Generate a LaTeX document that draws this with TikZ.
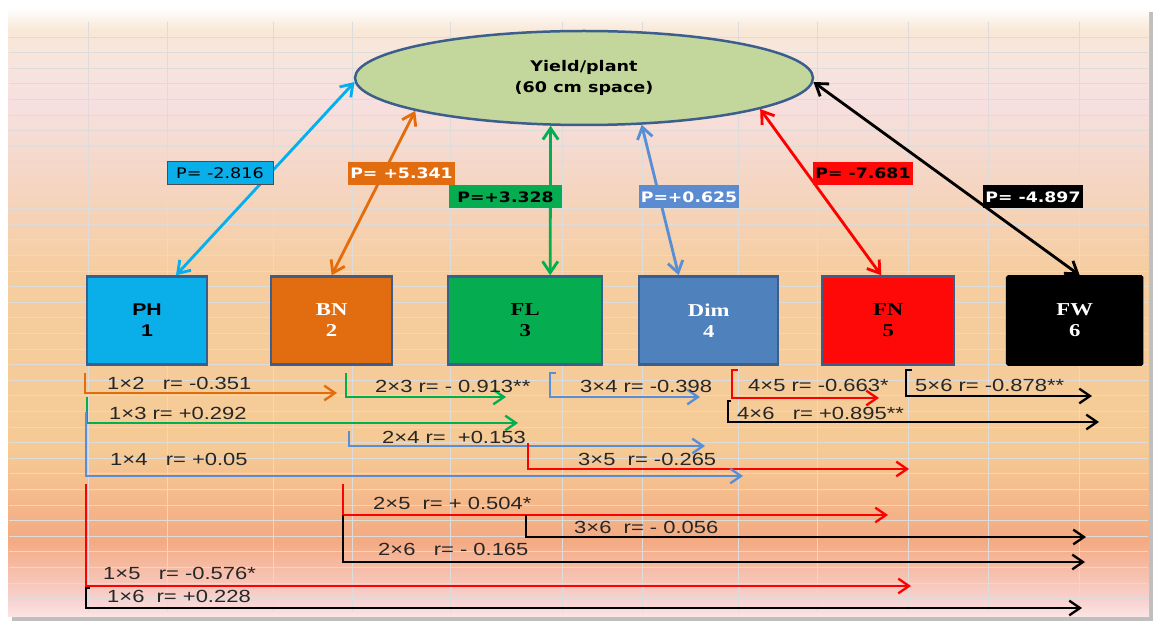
\documentclass[tikz,border=0pt]{standalone}
\usepackage{fontspec}
\setmainfont{Liberation Sans}
\newfontfamily\labelfont[FakeStretch=1.25]{Liberation Sans}
\newfontfamily\pathfont[FakeStretch=1.2]{DejaVu Sans}
\newfontfamily\varfont[FakeStretch=1.25]{Liberation Serif}
\usepackage{tikz}
\usetikzlibrary{shapes.geometric, arrows.meta, positioning, calc}
\definecolor{phcyan}{RGB}{10,174,232}
\definecolor{bnorange}{RGB}{226,108,16}
\definecolor{flgreen}{RGB}{6,173,80}
\definecolor{dimblue}{RGB}{79,129,189}
\definecolor{fnred}{RGB}{255,8,8}
\definecolor{edgeblue}{RGB}{60,94,140}
\definecolor{ellfill}{RGB}{195,214,155}
\definecolor{lncyan}{RGB}{0,176,240}
\definecolor{lnorange}{RGB}{228,108,10}
\definecolor{lngreen}{RGB}{0,176,80}
\definecolor{lnblue}{RGB}{88,142,214}
\definecolor{lnred}{RGB}{255,0,0}
\definecolor{pblue}{RGB}{91,139,208}
\definecolor{gridgray}{RGB}{222,220,218}
\definecolor{bgtop}{RGB}{248,232,216}
\definecolor{bgrose}{RGB}{246,224,224}
\definecolor{bgtan}{RGB}{245,214,196}
\definecolor{bgpeachlt}{RGB}{245,205,160}
\definecolor{bgpeach}{RGB}{245,202,148}
\definecolor{bgsalmon}{RGB}{244,170,130}
\definecolor{bgpink}{RGB}{248,210,208}
\definecolor{bgbot}{RGB}{251,228,228}
\pgfdeclareverticalshading{sheetshade}{100bp}{color(0bp)=(bgbot); color(25bp)=(bgbot);
  color(26.3bp)=(bgpink); color(31.2bp)=(bgsalmon); color(38.6bp)=(bgpeach);
  color(53.4bp)=(bgpeachlt); color(60.9bp)=(bgtan); color(67.4bp)=(bgrose);
  color(73.2bp)=(bgtop); color(75bp)=(white); color(100bp)=(white)}
\tikzset{
  varbox/.style={rectangle, draw=edgeblue, line width=0.75mm,
    minimum height=26.4mm, align=center,
    font=\varfont\bfseries\fontsize{15.5}{17.9}\selectfont},
  yieldell/.style={ellipse, draw=edgeblue, fill=ellfill, line width=0.75mm,
    minimum width=137.4mm, minimum height=28.2mm, align=center,
    font=\pathfont\bfseries\fontsize{12.5}{17.9}\selectfont},
  plabel/.style={rectangle, inner sep=0.6mm, minimum height=6.9mm,
    font=\pathfont\bfseries\fontsize{12.3}{15}\selectfont},
  parrow/.style={{Straight Barb[length=3.4mm, width=4.6mm]}-{Straight Barb[length=3.4mm, width=4.6mm]},
    line width=0.85mm},
  rline/.style={-{Straight Barb[length=3.2mm, width=4.4mm]}, line width=0.7mm},
  rtext/.style={anchor=west, inner sep=0pt, text=black!85,
    font=\labelfont\fontsize{15}{17}\selectfont},
  gridline/.style={draw=gridgray, line width=0.25mm}
}

\begin{document}
\begin{tikzpicture}[x=0.3mm, y=-0.3mm]
  \useasboundingbox (0,0) rectangle (1156,626);
  % sheet behind the diagram
  \fill[black!25] (12,12) rectangle (1153,621);
  \shade[shading=sheetshade] (8,8) rectangle (1149,616);
  \foreach \gx in {88,167,273,352,450,562,642,738,817,908,988,1079}
    \draw[gridline] (\gx,22) -- (\gx,612);
  \foreach \gy in {0,...,36}
    \draw[gridline] (9,{37+15.6*\gy}) -- (1148,{37+15.6*\gy});

  \node[yieldell] (yield) at (584,78) {Yield/plant\\(60 cm space)};

  \node[varbox, fill=phcyan, minimum width=36mm,
    font=\labelfont\bfseries\fontsize{14.5}{17.9}\selectfont] (ph) at (147,320.5) {PH\\1};
  \node[varbox, fill=bnorange, text=white, minimum width=36.3mm, right=18.5mm of ph] (bn) {BN\\2};
  \node[varbox, fill=flgreen, minimum width=46.2mm, right=16.05mm of bn] (fl) {FL\\3};
  \node[varbox, fill=dimblue, text=white, minimum width=41.7mm, right=10.35mm of fl] (dim) {Dim\\4};
  \node[varbox, fill=fnred, minimum width=39.6mm, right=12.45mm of dim] (fn) {FN\\5};
  \node[varbox, fill=black, draw=black, text=white, rounded corners=1pt,
    minimum width=40.5mm, right=15.15mm of fn] (fw) {FW\\6};

  % path coefficients
  \draw[parrow, draw=lncyan] ([xshift=8.7mm]ph.north) -- (yield.181);
  \draw[parrow, draw=lnorange] (bn.north) -- (yield.191);
  \draw[parrow, draw=lngreen] ([xshift=7.5mm]fl.north) -- (yield.235);
  \draw[parrow, draw=lnblue] ([xshift=-9mm]dim.north) -- (yield.321);
  \draw[parrow, draw=lnred] ([xshift=-2.1mm]fn.north) -- (yield.350);
  \draw[parrow, draw=black] ([xshift=1.5mm]fw.north) -- (yield.359);

  \node[plabel, fill=phcyan, draw=black!70, line width=0.3mm, minimum width=31.8mm,
    font=\pathfont\fontsize{12.5}{15}\selectfont] (pph) at (220,173.5) {P= -2.816};
  \node[plabel, fill=bnorange, text=white, minimum width=29.7mm] (pbn) at (401.5,173.5) {P= +5.341};
  \node[plabel, fill=flgreen, minimum width=33.9mm] (pfl) at (505.5,197) {P=+3.328};
  \node[plabel, fill=pblue, text=white, minimum width=29.4mm] (pdim) at (689,197) {P=+0.625};
  \node[plabel, fill=fnred, minimum width=27mm] (pfn) at (863,173.5) {P= -7.681};
  \node[plabel, fill=black, text=white, minimum width=27.6mm] (pfw) at (1033,197) {P= -4.897};

  % correlations
  \coordinate (s12) at (85,373);  \coordinate (e12) at (337,393);
  \draw[rline, draw=lnorange] (s12) |- (e12);
  \node[rtext] (t12) at (107,383) {1×2\ \ \ r= -0.351};

  \coordinate (s23) at (346,373); \coordinate (e23) at (506,397);
  \draw[rline, draw=lngreen] (s23) |- (e23);
  \node[rtext] (t23) at (375,386) {2×3 r= - 0.913**};

  \coordinate (s34) at (550,373); \coordinate (e34) at (700,397);
  \draw[rline, draw=lnblue] ([xshift=1.8mm]s34) -- (s34) |- (e34);
  \node[rtext] (t34) at (580,386) {3×4 r= -0.398};

  \coordinate (s45) at (732,370); \coordinate (e45) at (879,398);
  \draw[rline, draw=lnred] ([xshift=1.8mm]s45) -- (s45) |- (e45);
  \node[rtext] (t45) at (748,385) {4×5 r= -0.663*};

  \coordinate (s56) at (906,370); \coordinate (e56) at (1092,396);
  \draw[rline, draw=black] ([xshift=1.8mm]s56) -- (s56) |- (e56);
  \node[rtext] (t56) at (915,385) {5×6 r= -0.878**};

  \coordinate (s46) at (728,401); \coordinate (e46) at (1099,422);
  \draw[rline, draw=black] ([xshift=1mm]s46) -- (s46) |- (e46);
  \node[rtext] (t46) at (737,413) {4×6\ \ \ r= +0.895**};

  \coordinate (s13) at (87,397);  \coordinate (e13) at (518,423);
  \draw[rline, draw=lngreen] (s13) |- (e13);
  \node[rtext] (t13) at (109,413) {1×3 r= +0.292};

  \coordinate (s24) at (349,431); \coordinate (e24) at (705,446);
  \draw[rline, draw=lnblue] (s24) |- (e24);
  \node[rtext] (t24) at (382,437) {2×4 r=\ \ +0.153};

  \coordinate (s35) at (528,443); \coordinate (e35) at (909,469);
  \draw[rline, draw=lnred] (s35) |- (e35);
  \node[rtext] (t35) at (578,459) {3×5\ \ r= -0.265};

  \coordinate (s14) at (86,412);  \coordinate (e14) at (743,476);
  \draw[rline, draw=lnblue] (s14) |- (e14);
  \node[rtext] (t14) at (110,459) {1×4\ \ \ r= +0.05};

  \coordinate (s25) at (343,484); \coordinate (e25) at (888,515);
  \draw[rline, draw=lnred] (s25) |- (e25);
  \node[rtext] (t25) at (373,503) {2×5\ \ r= + 0.504*};

  \coordinate (s36) at (526,515); \coordinate (e36) at (1086,537);
  \draw[rline, draw=black] (s36) |- (e36);
  \node[rtext] (t36) at (574,527) {3×6\ \ r= - 0.056};

  \coordinate (s26) at (343,515); \coordinate (e26) at (1085,562);
  \draw[rline, draw=black] (s26) |- (e26);
  \node[rtext] (t26) at (378,549) {2×6\ \ \ r= - 0.165};

  \coordinate (s15) at (86,484);  \coordinate (e15) at (911,586);
  \draw[rline, draw=lnred] (s15) |- (e15);
  \node[rtext] (t15) at (103,573) {1×5\ \ \ r= -0.576*};

  \coordinate (s16) at (86,588);  \coordinate (e16) at (1082,608);
  \draw[rline, draw=black] ([xshift=1.2mm]s16) -- (s16) |- (e16);
  \node[rtext] (t16) at (107,596) {1×6\ \ r= +0.228};
\end{tikzpicture}
\end{document}
